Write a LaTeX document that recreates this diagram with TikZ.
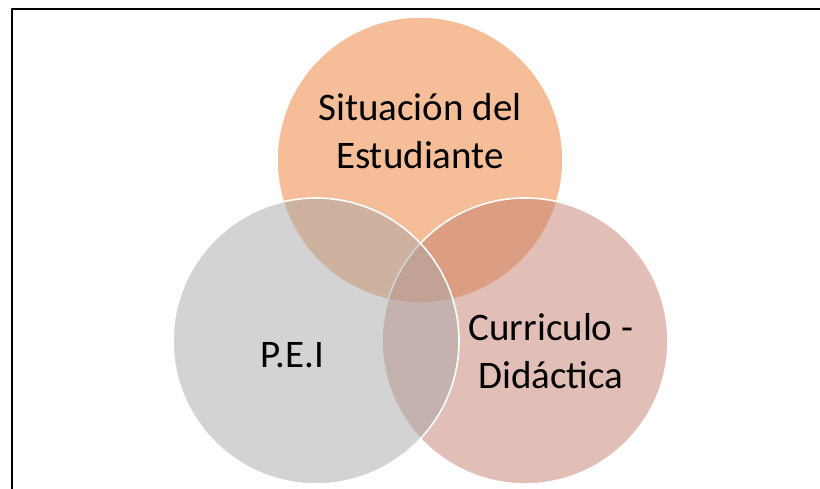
\documentclass[tikz,border=0pt]{standalone}
\usepackage{fontspec}
\setmainfont{Carlito}
\definecolor{vennorange}{HTML}{EB7D31}
\definecolor{venngrey}{HTML}{A7A7A7}
\definecolor{vennrose}{HTML}{C57F6D}

\begin{document}
\begin{tikzpicture}[x=1pt,y=1pt,line cap=round,line join=round,
  vennset/.style={circle,minimum size=286pt,inner sep=0pt,draw=white,line width=1.6pt,fill opacity=0.5},
  vennlabel/.style={font=\fontsize{39}{47.5}\selectfont,text=black,align=center,inner sep=0pt}]
\useasboundingbox (0,0) rectangle (820,489);
% cropped frame: only top and left edges show
\coordinate (frametl) at (11.5,479.5);
\coordinate (frametr) at (820,479.5);
\coordinate (framebl) at (11.5,0);
\draw[black,line width=2pt,line cap=butt] (framebl) -- (frametl) -- (frametr);
% circles, drawn top, right, left
\node[vennset,fill=vennorange] (estudiante) at (420,329) {};
\node[vennset,fill=vennrose] (curriculo) at (525,148) {};
\node[vennset,fill=venngrey] (pei) at (316,148) {};
% labels
\node[vennlabel] (estudiantetxt) at (420,358) {Situación del\\Estudiante};
\node[vennlabel] (peitxt) at (292,134) {P.E.I};
\node[vennlabel] (curriculotxt) at (551,138) {Curriculo -\\Didáctica};
\end{tikzpicture}
\end{document}
